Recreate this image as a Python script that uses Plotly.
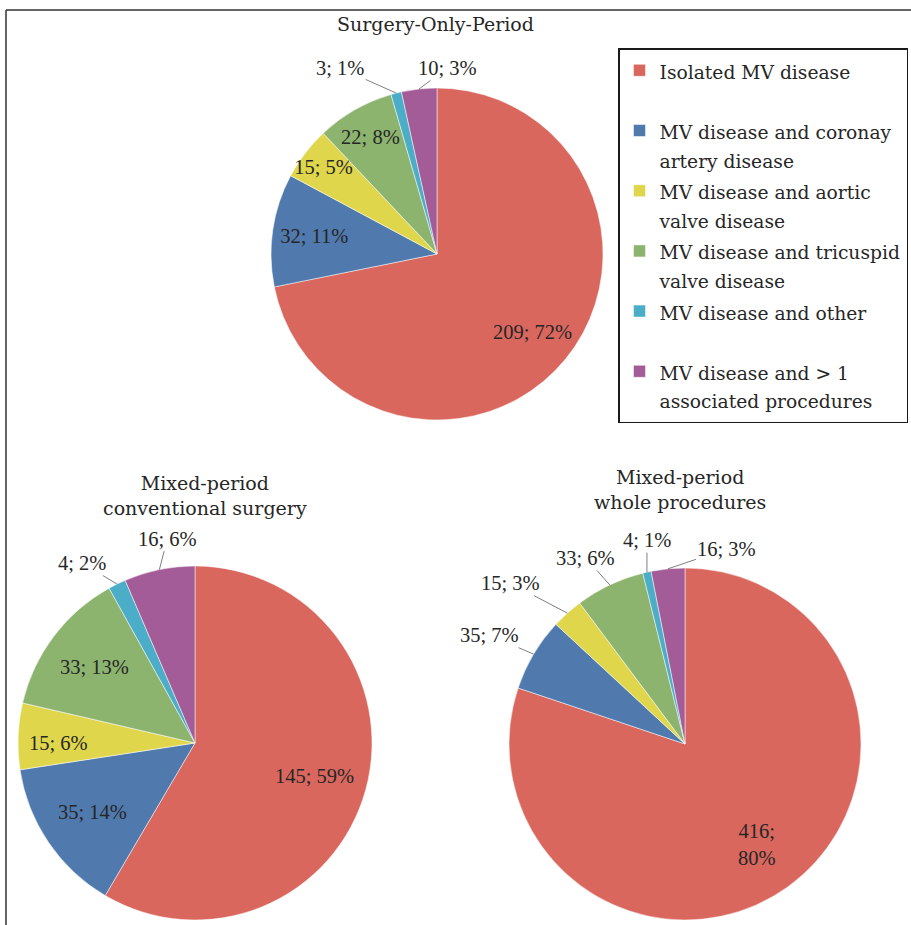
import math
import plotly.graph_objects as go

# ---------------- data ----------------
category_lines = [
    ["Isolated MV disease", "&nbsp;"],
    ["MV disease and coronay", "artery disease"],
    ["MV disease and aortic", "valve disease"],
    ["MV disease and tricuspid", "valve disease"],
    ["MV disease and other", "&nbsp;"],
    ["MV disease and &gt; 1", "associated procedures"],
]
colors = ["#D9675E", "#5079AE", "#E0D64C", "#8CB46F", "#4BADC7", "#A35C98"]

surgery_only = [209, 32, 15, 22, 3, 10]
surgery_only_pct = ["72%", "11%", "5%", "8%", "1%", "3%"]

mixed_conv = [145, 35, 15, 33, 4, 16]
mixed_conv_pct = ["59%", "14%", "6%", "13%", "2%", "6%"]

mixed_whole = [416, 35, 15, 33, 4, 16]
mixed_whole_pct = ["80%", "7%", "3%", "6%", "1%", "3%"]

titles = ["Surgery-Only-Period",
          "Mixed-period<br>conventional surgery",
          "Mixed-period<br>whole procedures"]

# ---------------- styling / geometry ----------------
W, H = 911, 925
LBL_SIZE = 20.5
LABEL_FONT = dict(family="Liberation Serif", size=LBL_SIZE, color="#262626")
TITLE_FONT = dict(family="DejaVu Serif", size=19, color="#262626")
LEGEND_TEXT_PX = 18.7

legend_labels = ["<br>".join(f"<span style='font-size:{LEGEND_TEXT_PX}px'>{ln}</span>"
                             for ln in lines) for lines in category_lines]


def dom(cx, cy, r):
    return dict(x=[(cx - r) / W, (cx + r) / W],
                y=[1 - (cy + r) / H, 1 - (cy - r) / H])


pies = [
    dict(values=surgery_only, pct=surgery_only_pct, domain=dom(437, 254, 166),
         pos=["none", "inside", "inside", "inside", "none", "none"],
         offsets={4: (-56, -25), 5: (28, -21)}, multiline=False, big_frac=0.74),
    dict(values=mixed_conv, pct=mixed_conv_pct, domain=dom(195, 743, 177),
         pos=["none", "inside", "inside", "inside", "none", "none"],
         offsets={4: (-35, -21), 5: (8, -31)}, multiline=False, big_frac=0.70),
    dict(values=mixed_whole, pct=mixed_whole_pct, domain=dom(685, 744, 176),
         pos=["none", "none", "none", "none", "none", "none"],
         offsets={1: (-44, -19), 2: (-57, -30), 3: (-24, -27), 4: (0, -32), 5: (59, -20)},
         multiline=True, big_frac=0.70),
]

fig = go.Figure()
annotations = []
for k, p in enumerate(pies):
    texts = [f"{v}; {q}" for v, q in zip(p["values"], p["pct"])]
    if p["multiline"]:
        texts[0] = f"{p['values'][0]};<br>{p['pct'][0]}"
    fig.add_trace(go.Pie(
        labels=legend_labels, values=p["values"], text=texts,
        textinfo="text", textposition=p["pos"],
        insidetextorientation="horizontal",
        sort=False, direction="clockwise", rotation=0,
        marker=dict(colors=colors, line=dict(color="white", width=0.5)),
        textfont=LABEL_FONT, domain=p["domain"], hoverinfo="value",
        showlegend=(k == 0),
    ))
    # labels placed along each slice's mid-angle (computed from the data)
    dx, dy = p["domain"]["x"], p["domain"]["y"]
    cxp, cyp = (dx[0] + dx[1]) / 2, (dy[0] + dy[1]) / 2
    rpx = min((dx[1] - dx[0]) * W, (dy[1] - dy[0]) * H) / 2
    tot = sum(p["values"])
    cum = 0
    for i, v in enumerate(p["values"]):
        mid = (cum + v / 2) / tot * 2 * math.pi
        cum += v
        if i == 0:
            f = p["big_frac"]
            annotations.append(dict(
                x=cxp + f * rpx * math.sin(mid) / W, y=cyp + f * rpx * math.cos(mid) / H,
                xref="paper", yref="paper", text=texts[i], showarrow=False,
                font=LABEL_FONT, xanchor="center", yanchor="middle"))
        elif i in p["offsets"]:
            ax, ay = p["offsets"][i]
            annotations.append(dict(
                x=cxp + rpx * math.sin(mid) / W, y=cyp + rpx * math.cos(mid) / H,
                xref="paper", yref="paper", text=texts[i], showarrow=True,
                arrowhead=0, arrowwidth=1, arrowcolor="#7f7f7f", standoff=0,
                ax=ax, ay=ay, font=LABEL_FONT,
            ))

title_pos = [(435, 24), (205, 496), (680, 489)]
for t, (x, y) in zip(titles, title_pos):
    annotations.append(dict(x=x / W, y=1 - y / H, xref="paper", yref="paper",
                            text=t, showarrow=False, font=TITLE_FONT,
                            xanchor="center", yanchor="middle"))

fig.update_layout(
    width=W, height=H, margin=dict(l=0, r=0, t=0, b=0),
    paper_bgcolor="white", plot_bgcolor="white",
    uniformtext=dict(minsize=LBL_SIZE, mode="show"),
    legend=dict(x=908 / W, y=1 - 48 / H, xanchor="right", yanchor="top",
                bordercolor="#1a1a1a", borderwidth=1.5, bgcolor="white",
                valign="top", traceorder="normal",
                font=dict(family="DejaVu Serif", size=22, color="#262626")),
    annotations=annotations,
    shapes=[
        dict(type="line", xref="paper", yref="paper", x0=6 / W, x1=1,
             y0=1 - 10 / H, y1=1 - 10 / H, line=dict(color="#333333", width=1.5)),
        dict(type="line", xref="paper", yref="paper", x0=6 / W, x1=6 / W,
             y0=0, y1=1 - 10 / H, line=dict(color="#333333", width=1.5)),
    ],
)

fig.write_html("out.html")
